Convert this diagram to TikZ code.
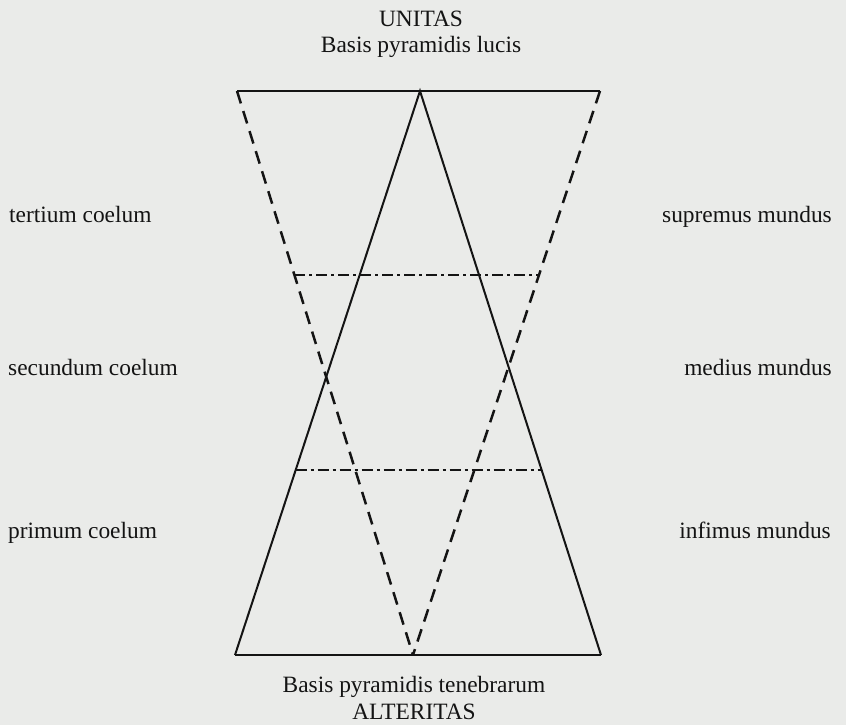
\documentclass[tikz,border=0pt]{standalone}
\usepackage{fontspec}
\setmainfont{Liberation Serif}
\usepackage{tikz}
\usetikzlibrary{calc}

\definecolor{paper}{RGB}{234,235,233}
\definecolor{ink}{RGB}{20,20,20}

\begin{document}
\begin{tikzpicture}[
  x=1pt, y=-1pt,
  lbl/.style={inner sep=0pt, text=ink, font=\fontsize{23.4}{28}\selectfont},
  solidline/.style={draw=ink, line width=2pt},
  dashline/.style={draw=ink, line width=2.5pt, dash pattern=on 13pt off 8pt},
  dotline/.style={draw=ink, line width=2pt, dash pattern=on 11pt off 4pt on 3pt off 4pt}
]

\fill[paper] (0,0) rectangle (846,725);
\useasboundingbox (0,0) rectangle (846,725);

% corners of the two pyramids
\coordinate (topleft) at (237,91);
\coordinate (topright) at (600,91);
\coordinate (lightapex) at (420,91);
\coordinate (botleft) at (235,655);
\coordinate (botright) at (601,655);
\coordinate (darkapex) at (413,655);

% dividing lines
\coordinate (upL) at ($(topleft)!0.326!(darkapex)$);
\coordinate (upR) at ($(topright)!0.326!(darkapex)$);
\coordinate (loL) at ($(botleft)!0.328!(lightapex)$);
\coordinate (loR) at ($(botright)!0.328!(lightapex)$);

% texts
\node[lbl, anchor=base] (unitas) at (421,27) {UNITAS};
\node[lbl, anchor=base] (lucis) at (421,53) {Basis pyramidis lucis};
\node[lbl, anchor=base] (tenebrae) at (414,692) {Basis pyramidis tenebrarum};
\node[lbl, anchor=base] (alteritas) at (414,719) {ALTERITAS};

\node[lbl, anchor=base west] (coelum3) at (9,222) {tertium coelum};
\node[lbl, anchor=base west] (coelum2) at (8,375) {secundum coelum};
\node[lbl, anchor=base west] (coelum1) at (8,538) {primum coelum};

\node[lbl, anchor=base east] (mundus3) at (832,222) {supremus mundus};
\node[lbl, anchor=base east] (mundus2) at (832,375) {medius mundus};
\node[lbl, anchor=base east] (mundus1) at (831,538) {infimus mundus};

% pyramid of light
\draw[solidline] (botleft) -- (lightapex) -- (botright);
\draw[solidline] (botleft) -- (botright);
% pyramid of darkness
\draw[dashline] (topleft) -- (darkapex);
\draw[dashline] (topright) -- (darkapex);
\draw[solidline] (topleft) -- (topright);

\draw[dotline] (upL) -- (upR);
\draw[dotline] (loL) -- (loR);

\end{tikzpicture}
\end{document}
